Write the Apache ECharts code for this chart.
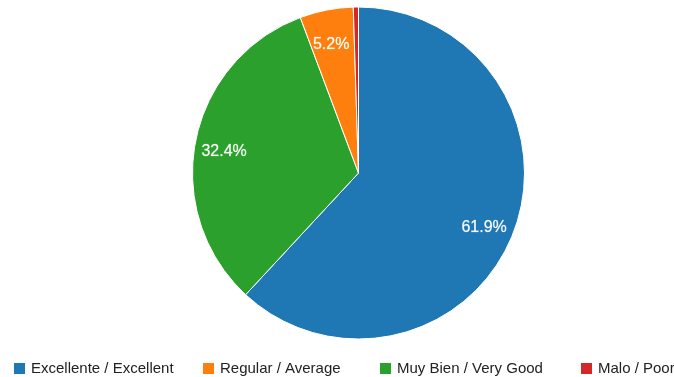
<!DOCTYPE html>
<html><head><meta charset="utf-8">
<script src="https://cdn.jsdelivr.net/npm/echarts@6/dist/echarts.min.js"></script>
<style>html,body{margin:0;padding:0;background:#fff}#c{width:674px;height:377px}</style>
</head><body><div id="c"></div>
<script>
const categories = ['Excellente / Excellent', 'Muy Bien / Very Good', 'Regular / Average', 'Malo / Poor'];
const values = [61.9, 32.4, 5.2, 0.5];
const colors = ['#1f77b4', '#2ca02c', '#ff7f0e', '#d62728'];
const legendOrder = ['Excellente / Excellent', 'Regular / Average', 'Muy Bien / Very Good', 'Malo / Poor'];
const legendLeft = [12, 201, 378, 579];

const chart = echarts.init(document.getElementById('c'));
const data = categories.map((n, i) => ({ name: n, value: values[i], itemStyle: { color: colors[i] } }));
const font = 'Liberation Sans, Arial, Helvetica, sans-serif';
chart.setOption({
  animation: false,
  legend: legendOrder.map((n, i) => ({
    data: [n], left: legendLeft[i], top: 361, icon: 'rect', itemWidth: 13, itemHeight: 13, itemGap: 0,
    textStyle: { fontFamily: font, fontSize: 15, color: '#222', padding: [0, 0, 0, 0] },
    padding: 0, selectedMode: false
  })),
  series: [{
    type: 'pie', center: [358.5, 173], radius: 166, startAngle: 90, clockwise: true,
    data: data, label: { show: false }, labelLine: { show: false },
    itemStyle: { borderColor: '#fff', borderWidth: 1 }, emphasis: { disabled: true }, silent: true
  }, {
    type: 'pie', center: [358.5, 173], radius: [100, 166], startAngle: 90, clockwise: true,
    data: categories.map((n, i) => ({ name: n, value: values[i] })),
    itemStyle: { color: 'rgba(0,0,0,0)' },
    label: {
      show: true, position: 'inside', color: '#fff', fontFamily: font, fontSize: 16,
      textBorderColor: 'rgba(255,255,255,0.35)', textBorderWidth: 0.6,
      offset: [-1, 5],
      formatter: p => p.value >= 2 ? p.value.toFixed(1) + '%' : ''
    },
    labelLine: { show: false }, emphasis: { disabled: true }, silent: true,
    legendHoverLink: false
  }]
});
</script></body></html>
